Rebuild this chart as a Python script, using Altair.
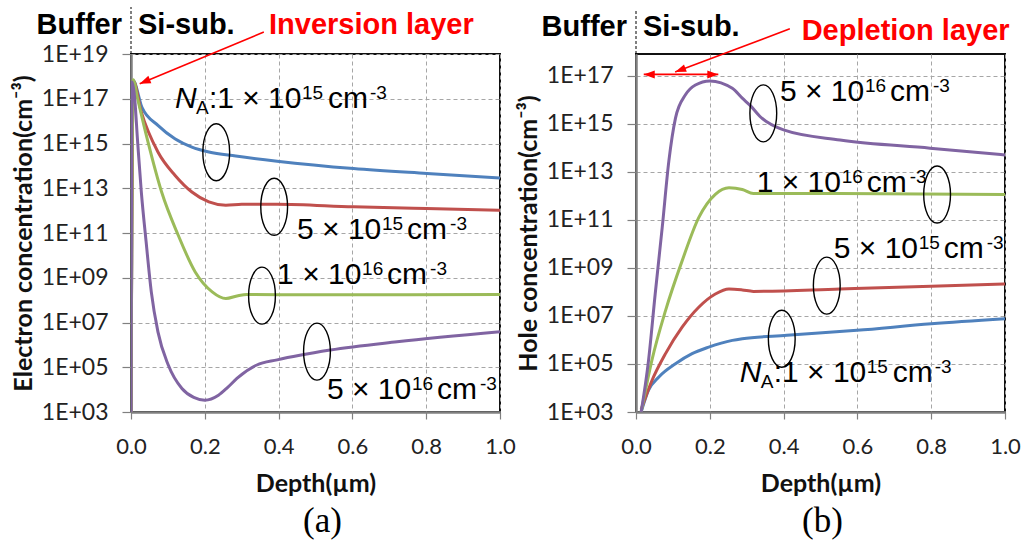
import math
import altair as alt
import pandas as pd

SERIES = ["1e15", "5e15", "1e16", "5e16"]
COLORS = ["#4F81BD", "#C0504D", "#9BBB59", "#8064A2"]

# ---------------- (a) electron concentration: depth (um) and log10(cm^-3)
e_depth_1e15 = [0, 0.006, 0.03, 0.073, 0.119, 0.165, 0.211, 0.284, 0.396, 0.603, 0.802, 1.0]
e_log_1e15 = [3, 17.8, 16.6, 15.81, 15.21, 14.84, 14.62, 14.44, 14.21, 13.88, 13.66, 13.46]
e_depth_5e15 = [0, 0.006, 0.028, 0.073, 0.119, 0.165, 0.211, 0.257, 0.3, 0.396, 0.603, 0.8, 1.0]
e_log_5e15 = [3, 17.8, 16.4, 14.62, 13.58, 12.83, 12.39, 12.24, 12.28, 12.29, 12.17, 12.09, 12.02]
e_depth_1e16 = [0, 0.006, 0.018, 0.046, 0.083, 0.128, 0.174, 0.22, 0.257, 0.29, 0.314, 0.5, 0.75, 1.0]
e_log_1e16 = [3, 17.85, 17.0, 15.07, 12.83, 10.9, 9.26, 8.37, 8.07, 8.2, 8.25, 8.24, 8.24, 8.25]
e_depth_5e16 = [0, 0.003, 0.009, 0.018, 0.028, 0.041, 0.055, 0.073, 0.101, 0.138, 0.17, 0.2,
                0.237, 0.262, 0.287, 0.341, 0.396, 0.54, 0.721, 1.0]
e_log_5e16 = [3, 17.75, 17.2, 15.07, 12.83, 10.6, 8.37, 6.58, 5.1, 4.05, 3.65, 3.53,
              3.75, 4.1, 4.5, 5.1, 5.33, 5.77, 6.14, 6.59]

# ---------------- (b) hole concentration
h_depth_1e15 = [0.014, 0.034, 0.062, 0.107, 0.152, 0.197, 0.261, 0.288, 0.409, 0.599, 0.8, 1.0]
h_log_1e15 = [3.0, 3.91, 4.46, 5.01, 5.43, 5.7, 5.98, 6.05, 6.19, 6.4, 6.67, 6.88]
h_depth_5e15 = [0.014, 0.043, 0.08, 0.125, 0.17, 0.215, 0.252, 0.288, 0.318, 0.553, 0.8, 1.0]
h_log_5e15 = [3.1, 4.3, 5.43, 6.53, 7.36, 7.91, 8.12, 8.08, 8.02, 8.12, 8.23, 8.33]
h_depth_1e16 = [0.014, 0.043, 0.08, 0.125, 0.17, 0.215, 0.252, 0.288, 0.318, 0.553, 1.0]
h_log_1e16 = [3.0, 5.15, 7.22, 9.29, 11.09, 12.06, 12.33, 12.26, 12.09, 12.09, 12.05]
h_depth_5e16 = [0.014, 0.034, 0.052, 0.071, 0.089, 0.107, 0.134, 0.161, 0.2, 0.261, 0.288,
                0.31, 0.336, 0.4, 0.553, 0.797, 1.0]
h_log_5e16 = [3.0, 5.15, 7.91, 10.67, 13.44, 15.23, 16.2, 16.61, 16.78, 16.47, 16.06,
              15.75, 15.3, 14.74, 14.32, 13.98, 13.7]

X_TICKS = [0.0, 0.2, 0.4, 0.6, 0.8, 1.0]
E_YTICKS = [1e3, 1e5, 1e7, 1e9, 1e11, 1e13, 1e15, 1e17, 1e19]
H_YTICKS = [1e3, 1e5, 1e7, 1e9, 1e11, 1e13, 1e15, 1e17]
E_DOMAIN = [1e3, 1e19]
H_DOMAIN = [1e3, 10 ** 17.9]

# annotation labels: (x, log10 y, mantissa, exponent)
e_lab_x = [0.45, 0.396, 0.531]
e_lab_y = [11.14, 9.13, 4.0]
e_lab_m = ["5", "1", "5"]
e_lab_e = ["15", "16", "16"]
e_na_x, e_na_y = [0.119], [16.99]
h_lab_x = [0.39, 0.327, 0.536]
h_lab_y = [16.33, 12.53, 9.78]
h_lab_m = ["5", "1", "5"]
h_lab_e = ["16", "16", "15"]
h_na_x, h_na_y = [0.281], [4.61]

# ellipse markers (x, log10 y)
e_ell_x = [0.231, 0.388, 0.355, 0.504]
e_ell_y = [14.61, 12.17, 8.2, 5.7]
h_ell_x = [0.345, 0.816, 0.517, 0.395]
h_ell_y = [15.43, 12.05, 8.26, 6.05]

# header texts
e_head = [("Buffer", 0.0, 20.29, "right", -9, "black"),
          ("Si-sub.", 0.0, 20.29, "left", 7, "black"),
          ("Inversion layer", 0.374, 20.29, "left", 0, "#FF0000")]
h_head = [("Buffer", 0.0, 19.03, "right", -9, "black"),
          ("Si-sub.", 0.0, 19.03, "left", 7, "black"),
          ("Depletion layer", 0.449, 18.87, "left", 0, "#FF0000")]

# dashed divider (x, log y1, log y2)
e_div = (0.0, 19.0, 21.1)
h_div = (0.0, 17.9, 19.7)

# red arrows: (x1, logy1, x2 tip, logy2 tip)
e_arrows = [(0.36, 19.98, 0.0236, 17.67)]
h_arrows = [(0.417, 18.95, 0.106, 17.15)]
h_double = (0.021, 0.223, 17.05)

W, H = 369, 358
LABEL_FONT = "Lato, 'DejaVu Sans'"
ANN_FONT = "Liberation Sans, 'DejaVu Sans'"
ELLIPSE = "M -0.47 0 A 0.47 1 0 1 1 0.47 0 A 0.47 1 0 1 1 -0.47 0 Z"
ARROW = "M 0 0 L 0.36 1 L -0.36 1 Z"


def xenc():
    return alt.X("x:Q", scale=alt.Scale(domain=[0, 1], nice=False, zero=False),
                 axis=alt.Axis(values=X_TICKS, format=".1f", title="Depth(µm)",
                               tickSize=7, labelPadding=17, titlePadding=14,
                               labelFlush=False, titleFontSize=25))


def yenc(domain, ticks, title):
    return alt.Y("y:Q", scale=alt.Scale(type="log", domain=domain, nice=False),
                 axis=alt.Axis(values=ticks, title=title, tickSize=9, labelPadding=14,
                               titlePadding=5, labelFlush=False, titleFontSize=25,
                               labelExpr="'1E+' + (round(log(datum.value)/LN10) < 10 ? '0' : '') + round(log(datum.value)/LN10)"))


def panel(depths, logs, domain, ticks, ytitle, lab, na, ell, head, div, arrows, double, caption, cdx):
    decade_px = H / (math.log10(domain[1]) - math.log10(domain[0]))
    X = xenc()
    Y = yenc(domain, ticks, ytitle)

    rows = []
    for name, d, l in zip(SERIES, depths, logs):
        for xv, lv in zip(d, l):
            rows.append({"x": xv, "y": 10 ** lv, "s": name})
    lines = alt.Chart(pd.DataFrame(rows)).mark_line(strokeWidth=3, clip=True, interpolate="monotone").encode(
        x=X, y=Y, color=alt.Color("s:N", scale=alt.Scale(domain=SERIES, range=COLORS), legend=None))

    edf = pd.DataFrame({"x": ell[0], "y": [10 ** v for v in ell[1]]})
    ellipses = alt.Chart(edf).mark_point(shape=ELLIPSE, size=57 * 57, filled=False,
                                         color="black", strokeWidth=1.4, opacity=1).encode(x=X, y=Y)

    ldf = pd.DataFrame({"x": lab[0], "y": [10 ** v for v in lab[1]],
                        "base": [m + " × 10" for m in lab[2]], "ex": lab[3],
                        "cm": ["cm"] * len(lab[0]), "m3": ["-3"] * len(lab[0])})

    def t(df, field, dx, dy, size, style="normal"):
        return alt.Chart(df).mark_text(align="left", baseline="middle", dx=dx, dy=dy, fontSize=size,
                                       fontStyle=style, font=ANN_FONT, color="black").encode(
            x=X, y=Y, text=f"{field}:N")

    layers = [lines, ellipses,
              t(ldf, "base", 0, 0, 30), t(ldf, "ex", 85, -6, 19),
              t(ldf, "cm", 110, 0, 30), t(ldf, "m3", 153, -6, 19)]

    ndf = pd.DataFrame({"x": na[0], "y": [10 ** v for v in na[1]], "n": ["N"], "a": ["A"],
                        "base": [":1 × 10"], "ex": ["15"], "cm": ["cm"], "m3": ["-3"]})
    layers += [t(ndf, "n", 0, 0, 30, "italic"), t(ndf, "a", 21, 9, 19), t(ndf, "base", 34, 0, 30),
               t(ndf, "ex", 127, -6, 19), t(ndf, "cm", 153, 0, 30), t(ndf, "m3", 195, -6, 19)]

    for txt, hx, hy, al, dx, col in head:
        hdf = pd.DataFrame({"x": [hx], "y": [10 ** hy], "t": [txt]})
        layers.append(alt.Chart(hdf).mark_text(align=al, baseline="middle", dx=dx, fontSize=29,
                                               fontWeight="bold", font=ANN_FONT, color=col).encode(
            x=X, y=Y, text="t:N"))

    ddf = pd.DataFrame({"x": [div[0]], "y": [10 ** div[1]], "x2": [div[0]], "y2": [10 ** div[2]]})
    layers.append(alt.Chart(ddf).mark_rule(color="black", strokeWidth=1, strokeDash=[3, 2]).encode(
        x=X, y=Y, x2="x2:Q", y2="y2:Q"))

    segs, heads = [], []
    for x1, l1, x2, l2 in arrows:
        segs.append({"x": x1, "y": 10 ** l1, "x2": x2, "y2": 10 ** l2})
        dxp = (x2 - x1) * W
        dyp = -(l2 - l1) * decade_px
        heads.append({"x": x2, "y": 10 ** l2, "a": math.degrees(math.atan2(dxp, -dyp)) % 360})
    if double:
        xa, xb, ld = double
        segs.append({"x": xa, "y": 10 ** ld, "x2": xb, "y2": 10 ** ld})
        heads.append({"x": xa, "y": 10 ** ld, "a": 270})
        heads.append({"x": xb, "y": 10 ** ld, "a": 90})
    layers.append(alt.Chart(pd.DataFrame(segs)).mark_rule(color="#FF0000", strokeWidth=1.6).encode(
        x=X, y=Y, x2="x2:Q", y2="y2:Q"))
    layers.append(alt.Chart(pd.DataFrame(heads)).mark_point(shape=ARROW, size=484, filled=True,
                                                            color="#FF0000", opacity=1).encode(
        x=X, y=Y, angle=alt.Angle("a:Q", scale=None)))

    return alt.layer(*layers).properties(
        width=W, height=H,
        title=alt.TitleParams(caption, orient="bottom", font="Liberation Serif", fontSize=35,
                              fontWeight="normal", offset=8, dx=cdx, anchor="middle", frame="group"))


left = panel([e_depth_1e15, e_depth_5e15, e_depth_1e16, e_depth_5e16],
             [e_log_1e15, e_log_5e15, e_log_1e16, e_log_5e16],
             E_DOMAIN, E_YTICKS, "Electron concentration(cm⁻³)",
             (e_lab_x, e_lab_y, e_lab_m, e_lab_e), (e_na_x, e_na_y), (e_ell_x, e_ell_y),
             e_head, e_div, e_arrows, None, "(a)", 7)
right = panel([h_depth_1e15, h_depth_5e15, h_depth_1e16, h_depth_5e16],
              [h_log_1e15, h_log_5e15, h_log_1e16, h_log_5e16],
              H_DOMAIN, H_YTICKS, "Hole concentration(cm⁻³)",
              (h_lab_x, h_lab_y, h_lab_m, h_lab_e), (h_na_x, h_na_y), (h_ell_x, h_ell_y),
              h_head, h_div, h_arrows, h_double, "(b)", 2)

chart = alt.hconcat(left, right, spacing=136, bounds="flush").properties(
    padding={"left": 10, "top": 5, "right": 0, "bottom": 0},
    background="white",
).configure_view(stroke="#111111", strokeWidth=2).configure_axis(
    labelFont=LABEL_FONT, labelFontSize=22, labelColor="#222222",
    titleFont=LABEL_FONT, titleFontSize=22, titleFontWeight="bold", titleColor="#111111",
    grid=True, gridColor="#a6a6a6", gridDash=[4, 3], gridWidth=1,
    domainColor="#808080", domainWidth=2.5, tickColor="#808080", tickWidth=1.2,
).configure_axisY(labelFontSize=23)

chart.save("out.html", embed_options={"renderer": "svg", "actions": False})
